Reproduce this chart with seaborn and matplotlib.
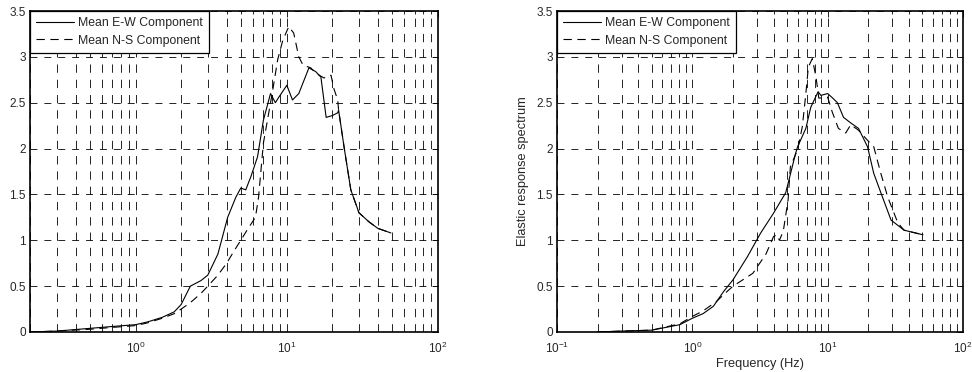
import numpy as np
import pandas as pd
import matplotlib
matplotlib.use("Agg")
import matplotlib.pyplot as plt
import seaborn as sns
from matplotlib.ticker import LogLocator, FormatStrFormatter

# left panel: mean spectra
ew_left_f = [0.2, 0.3, 0.5, 0.7, 1.0, 1.2, 1.5, 1.8, 2.0, 2.3, 2.7, 3.0, 3.5, 4.06, 4.6,
             4.96, 5.35, 5.8, 6.4, 7.0, 7.8, 8.4, 8.85, 10.0, 10.9, 12.0, 14.0, 15.5,
             16.8, 18.2, 20.0, 21.7, 22.0, 24.0, 26.5, 30.0, 35.0, 40.0, 48.8]
ew_left_v = [0.0, 0.01, 0.04, 0.06, 0.08, 0.11, 0.16, 0.22, 0.3, 0.5, 0.56, 0.62, 0.85, 1.25, 1.47,
             1.57, 1.55, 1.7, 1.91, 2.31, 2.6, 2.5, 2.56, 2.69, 2.53, 2.6, 2.88, 2.84,
             2.78, 2.34, 2.36, 2.39, 2.42, 2.0, 1.55, 1.3, 1.2, 1.13, 1.08]
ns_left_f = [0.2, 0.3, 0.5, 0.7, 1.0, 1.2, 1.5, 1.8, 2.0, 2.3, 2.7, 3.0, 3.5, 4.0, 4.5,
             4.96, 5.5, 6.2, 6.5, 7.0, 7.5, 8.0, 8.7, 9.4, 10.3, 11.1, 12.0, 12.8, 14.4,
             15.6, 17.6, 19.6, 20.5, 21.7, 22.0, 24.0, 26.5, 30.0, 35.0, 40.0, 48.8]
ns_left_v = [0.0, 0.01, 0.03, 0.05, 0.07, 0.1, 0.15, 0.2, 0.25, 0.32, 0.42, 0.5, 0.62, 0.75, 0.89,
             1.0, 1.12, 1.25, 1.47, 2.06, 2.34, 2.6, 2.97, 3.18, 3.33, 3.26, 3.0, 2.91, 2.88,
             2.82, 2.77, 2.8, 2.65, 2.53, 2.42, 2.0, 1.55, 1.3, 1.2, 1.13, 1.08]

# right panel: elastic response spectrum
ew_right_f = [0.2, 0.3, 0.5, 0.81, 1.0, 1.2, 1.43, 1.7, 2.0, 2.55, 3.2, 4.0, 4.9, 5.1,
              5.8, 6.0, 6.9, 7.5, 8.5, 8.9, 10.0, 10.9, 11.8, 13.1, 14.8, 16.9, 19.7,
              21.9, 24.7, 29.4, 36.7, 50.6]
ew_right_v = [0.0, 0.01, 0.02, 0.08, 0.15, 0.2, 0.28, 0.44, 0.57, 0.82, 1.08, 1.3, 1.52, 1.62,
              1.95, 2.02, 2.22, 2.45, 2.62, 2.58, 2.6, 2.55, 2.5, 2.34, 2.28, 2.22, 2.02,
              1.73, 1.52, 1.22, 1.11, 1.06]
ns_right_f = [0.2, 0.3, 0.5, 0.81, 1.0, 1.2, 1.5, 1.8, 2.0, 2.8, 3.5, 3.98, 4.2, 4.4, 4.7,
              5.1, 5.3, 6.0, 6.5, 6.9, 7.2, 7.7, 8.2, 8.6, 10.0, 10.8, 12.0, 13.6, 14.8,
              16.9, 19.7, 21.9, 24.7, 27.8, 33.0, 36.7, 50.6]
ns_right_v = [0.0, 0.01, 0.02, 0.09, 0.17, 0.23, 0.33, 0.44, 0.5, 0.64, 0.85, 1.04, 1.06, 1.0, 1.1,
              1.44, 1.8, 1.99, 2.24, 2.6, 2.89, 2.98, 2.78, 2.55, 2.56, 2.4, 2.22, 2.17, 2.26,
              2.2, 2.09, 2.02, 1.73, 1.47, 1.19, 1.11, 1.06]

LABELS = ["Mean E-W Component", "Mean N-S Component"]

sns.set_style("white")
plt.rcParams["font.family"] = ["Liberation Sans", "DejaVu Sans"]
plt.rcParams["font.size"] = 8.5
plt.rcParams["lines.scale_dashes"] = False
plt.rcParams["mathtext.fontset"] = "custom"
plt.rcParams["mathtext.rm"] = "Liberation Sans"

fig = plt.figure(figsize=(9.72, 3.72), dpi=100)
ax1 = fig.add_axes([30 / 972, 40 / 372, 408 / 972, 321 / 372])
ax2 = fig.add_axes([557 / 972, 40 / 372, 406 / 972, 321 / 372])

panels = [
    (ax1, ew_left_f, ew_left_v, ns_left_f, ns_left_v, 0.2),
    (ax2, ew_right_f, ew_right_v, ns_right_f, ns_right_v, 0.1),
]

for ax, ef, ev, nf, nv, xmin in panels:
    ew = pd.DataFrame({"f": ef, "v": ev})
    ns = pd.DataFrame({"f": nf, "v": nv})
    sns.lineplot(data=ew, x="f", y="v", ax=ax, color="black", lw=0.8,
                 label=LABELS[0], estimator=None, sort=False)
    sns.lineplot(data=ns, x="f", y="v", ax=ax, color="black", lw=0.8,
                 linestyle=(0, (6, 4)), label=LABELS[1], estimator=None, sort=False)
    ax.set_xscale("log")
    ax.set_xlim(xmin, 100)
    ax.set_ylim(0, 3.5)
    ax.set_yticks(np.arange(0, 3.51, 0.5))
    ax.yaxis.set_major_formatter(FormatStrFormatter("%g"))
    ax.xaxis.set_major_locator(LogLocator(base=10))
    ax.xaxis.set_minor_locator(LogLocator(base=10, subs=np.arange(2, 10)))
    ax.grid(True, which="both", axis="x", color="black", lw=0.6, linestyle=(0, (6, 5)))
    ax.grid(True, which="major", axis="y", color="black", lw=0.6, linestyle=(0, (5, 5)))
    ax.tick_params(which="both", direction="in", top=True, right=True, color="black",
                   labelsize=8.5)
    ax.tick_params(axis="y", pad=3)
    ax.tick_params(axis="x", pad=6)
    ax.tick_params(which="major", length=4, width=0.6)
    ax.tick_params(which="minor", length=2, width=0.6)
    ax.yaxis.set_minor_locator(plt.NullLocator())
    for s in ax.spines.values():
        s.set_color("black")
        s.set_linewidth(1.2)
    ax.set_xlabel("")
    ax.set_ylabel("")
    leg = ax.legend(loc="upper left", fontsize=8.8, frameon=True, fancybox=False,
                    borderaxespad=0.0, handlelength=3.1, borderpad=0.5,
                    labelspacing=0.45, handletextpad=0.35)
    leg.get_frame().set_edgecolor("black")
    leg.get_frame().set_linewidth(0.9)
    leg.get_frame().set_alpha(1)

ax2.set_xlabel("Frequency (Hz)", fontsize=9.2, labelpad=2)
ax2.set_ylabel("Elastic response spectrum", fontsize=9.2, labelpad=5)

fig.savefig("out.png", dpi=100)
